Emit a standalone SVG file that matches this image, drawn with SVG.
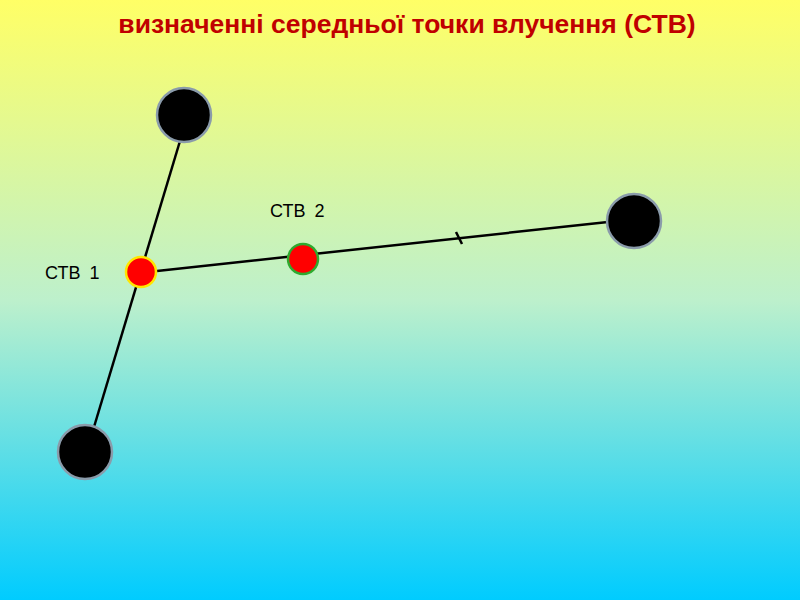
<svg xmlns="http://www.w3.org/2000/svg" width="800" height="600" viewBox="0 0 800 600">
<defs>
<linearGradient id="bg" x1="0" y1="0" x2="0" y2="1">
<stop offset="0" stop-color="#FFFF66"/>
<stop offset="0.5" stop-color="#BDF0CC"/>
<stop offset="1" stop-color="#00CCFF"/>
</linearGradient>
<style>
.hit{fill:#000;stroke:#8A9BAA;stroke-width:2.5}
.ln{stroke:#000;stroke-width:2.5;fill:none}
.lbl{font-family:"Liberation Sans",Arial,sans-serif;font-size:18px;fill:#000;word-spacing:4px}
</style>
</defs>
<rect width="800" height="600" fill="url(#bg)"/>
<text x="407" y="33" text-anchor="middle" font-family="Liberation Sans, Arial, sans-serif" font-weight="bold" font-size="26.5" fill="#C00000">визначенні середньої точки влучення (СТВ)</text>
<g id="connectors">
<line class="ln" x1="180" y1="141" x2="94" y2="427"/>
<line class="ln" x1="157" y1="271" x2="608" y2="222"/>
<line class="ln" x1="456" y1="232" x2="462" y2="244"/>
</g>
<g id="hit1"><circle class="hit" cx="184" cy="115" r="27"/></g>
<g id="hit2"><circle class="hit" cx="634" cy="221" r="27"/></g>
<g id="hit3"><circle class="hit" cx="85" cy="452" r="27"/></g>
<g id="stv1"><circle cx="141" cy="272" r="15" fill="#FF0000" stroke="#FFE600" stroke-width="2.5"/><text class="lbl" x="45" y="279">СТВ 1</text></g>
<g id="stv2"><circle cx="303" cy="259" r="15" fill="#FF0000" stroke="#2EAA2E" stroke-width="2.5"/><text class="lbl" x="270" y="217">СТВ 2</text></g>
</svg>
